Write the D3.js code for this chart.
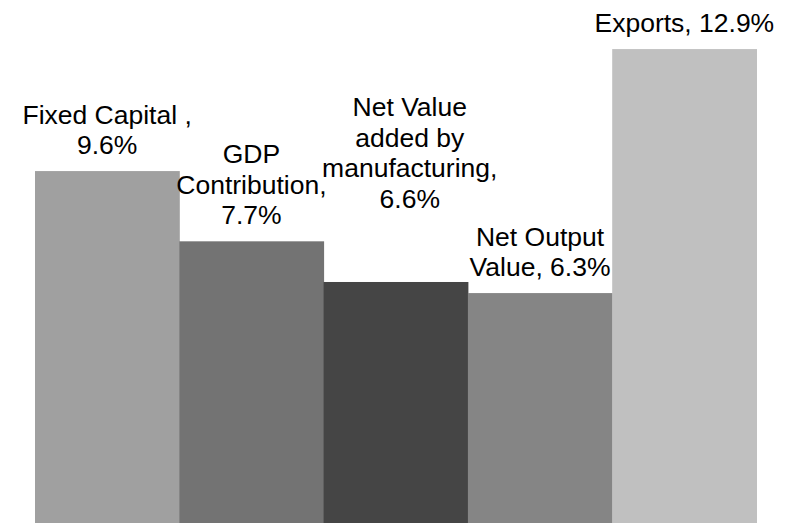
<!DOCTYPE html>
<html>
<head>
<meta charset="utf-8">
<script src="https://cdn.jsdelivr.net/npm/d3@7"></script>
<style>
  html, body { margin: 0; padding: 0; background: #fff; }
  svg { display: block; }
</style>
</head>
<body>
<svg id="chart" width="796" height="523"></svg>
<script>
// ---- data ----
const categories = ["Fixed Capital ", "GDP|Contribution", "Net Value|added by|manufacturing", "Net Output|Value", "Exports"];
const values = [9.6, 7.7, 6.6, 6.3, 12.9];
const valueOnNewLine = [true, true, true, false, false];

// ---- styling / layout ----
const colors = ["#a0a0a0", "#737373", "#454545", "#858585", "#c0c0c0"];
const labelDx = [0, 0, 14, 0, 0];
const labelDy = [0, 0, -57, 0, 0];
const W = 796, H = 523;
const fontSize = 26.5, lineH = 30.5;

const svg = d3.select("#chart");
const x = d3.scaleBand().domain(d3.range(categories.length)).range([35, 756.5]).padding(0);
const y = d3.scaleLinear().domain([0, 14]).range([526, 8.4]);

svg.append("g").selectAll("rect")
  .data(values)
  .join("rect")
  .attr("x", (d, i) => x(i))
  .attr("width", x.bandwidth() + 0.5)
  .attr("y", d => y(d))
  .attr("height", d => y(0) - y(d))
  .attr("fill", (d, i) => colors[i]);

const labels = svg.append("g")
  .attr("font-family", "'Liberation Sans', Arial, sans-serif")
  .attr("font-size", fontSize)
  .attr("fill", "#000")
  .attr("text-anchor", "middle");

values.forEach((v, i) => {
  const catLines = categories[i].split("|");
  let lines;
  if (valueOnNewLine[i]) {
    catLines[catLines.length - 1] += ",";
    lines = catLines.concat([v + "%"]);
  } else {
    catLines[catLines.length - 1] += ", " + v + "%";
    lines = catLines;
  }
  const cx = x(i) + x.bandwidth() / 2 + labelDx[i];
  const lastBase = y(v) - 17 + labelDy[i];
  const t = labels.append("text");
  lines.forEach((ln, j) => {
    t.append("tspan")
      .attr("x", cx)
      .attr("y", lastBase - (lines.length - 1 - j) * lineH)
      .text(ln);
  });
});
</script>
</body>
</html>
